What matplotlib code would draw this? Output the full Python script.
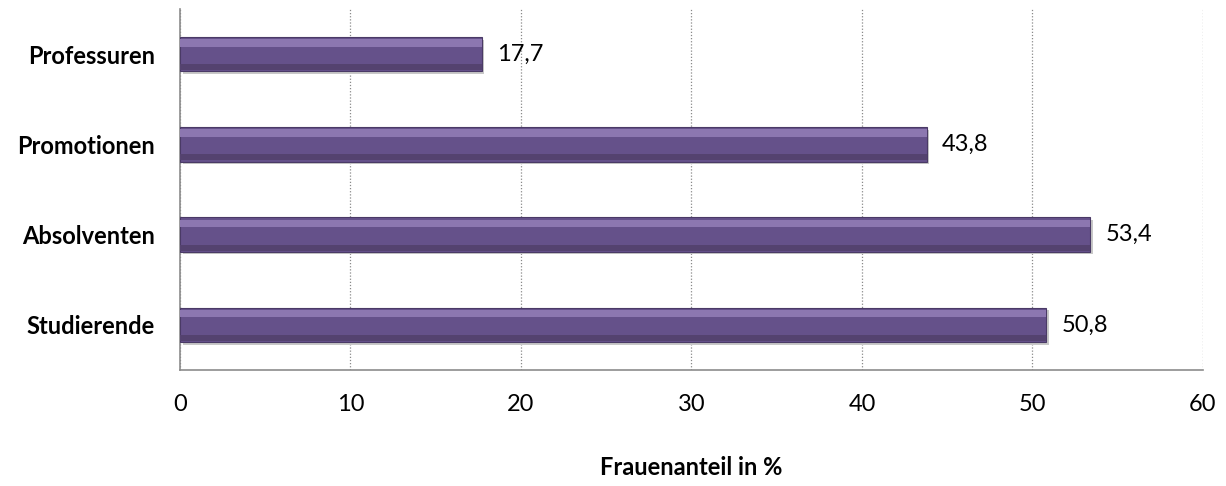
import matplotlib
matplotlib.use("Agg")
import matplotlib.pyplot as plt

categories = ["Studierende", "Absolventen", "Promotionen", "Professuren"]
values = [50.8, 53.4, 43.8, 17.7]
xticks = [0, 10, 20, 30, 40, 50, 60]

plt.rcParams['font.family'] = ['Lato', 'DejaVu Sans']

fig = plt.figure(figsize=(12.26, 4.86), dpi=100)
ax = fig.add_axes([0.1468, 0.2387, 0.8344, 0.7428])

ypos = list(range(len(categories)))
h = 0.38

# shadow, main bar, bevel highlight
ax.barh([y - 0.03 for y in ypos], values, height=h, color='#c8c8c8', zorder=2, left=0.15)
ax.barh(ypos, values, height=h, color='#65518a', edgecolor='#4a3a66', linewidth=0.8, zorder=3)
ax.barh([y + h * 0.33 for y in ypos], values, height=h * 0.22, color='#8c77b0', zorder=4, linewidth=0)
ax.barh([y - h * 0.38 for y in ypos], values, height=h * 0.18, color='#54426f', zorder=4, linewidth=0)

for y, v in zip(ypos, values):
    ax.text(v + 0.9, y, f"{v:.1f}".replace('.', ','), va='center', ha='left', fontsize=17, color='black')

ax.set_xlim(0, 60)
ax.set_ylim(-0.5, 3.5)
ax.set_xticks(xticks)
ax.set_xticklabels([str(t) for t in xticks], fontsize=17)
ax.set_yticks(ypos)
ax.set_yticklabels(categories, fontsize=17, fontweight='bold')
ax.tick_params(axis='both', length=0)
ax.tick_params(axis='x', pad=17)
ax.tick_params(axis='y', pad=18)

ax.xaxis.grid(True, linestyle=(0, (1, 1.5)), color='#8a8a8a', linewidth=0.9, zorder=0)
ax.set_axisbelow(True)

for s in ['top', 'right']:
    ax.spines[s].set_visible(False)
for s in ['left', 'bottom']:
    ax.spines[s].set_color('#8c8c8c')
    ax.spines[s].set_linewidth(1.2)

ax.set_xlabel("Frauenanteil in %", fontsize=17, fontweight='bold', labelpad=30)

fig.savefig("out.png", dpi=100)
